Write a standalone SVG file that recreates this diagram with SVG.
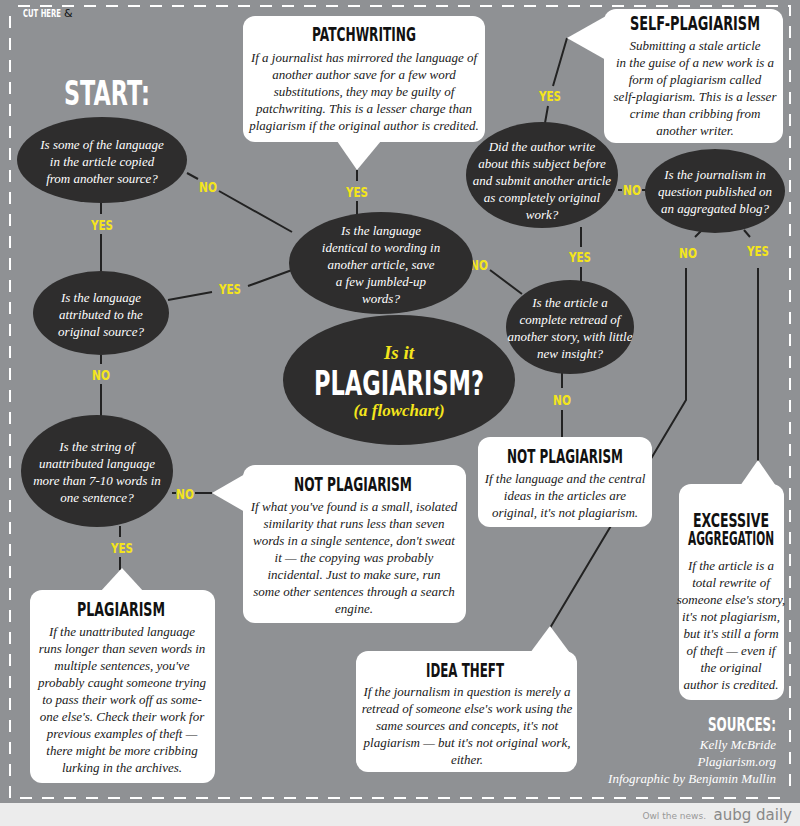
<svg xmlns="http://www.w3.org/2000/svg" width="800" height="826" viewBox="0 0 800 826">
<style>
.q{fill:#2e2d2d}
.qt{font-family:"Liberation Serif",serif;font-style:italic;font-size:13px;fill:#fff;text-anchor:middle}
.bx{fill:#fff}
.bt{font-family:"Liberation Serif",serif;font-style:italic;font-size:13px;fill:#1a1a1a;text-anchor:middle}
.h{font-family:"DejaVu Sans",sans-serif;font-weight:bold;font-size:19px;fill:#111;text-anchor:middle}
.l{font-family:"DejaVu Sans",sans-serif;font-weight:bold;font-size:14px;fill:#f4e51c;text-anchor:middle}
.c{stroke:#222;stroke-width:2;fill:none}
</style>
<rect width="800" height="826" fill="#8f9194"/>
<rect y="803" width="800" height="23" fill="#ececec"/>
<path d="M18 6H790V790M780 798H10V14" fill="none" stroke="#fff" stroke-width="2" stroke-dasharray="12,10"/>
<text x="23" y="17" font-family="DejaVu Sans,sans-serif" font-size="10" font-weight="bold" fill="#fff" textLength="38" lengthAdjust="spacingAndGlyphs">CUT HERE</text>
<text x="64" y="17" font-family="DejaVu Sans,sans-serif" font-size="11" fill="#111">&amp;</text>
<text x="107" y="105" font-family="DejaVu Sans,sans-serif" font-weight="bold" font-size="34" fill="#fff" text-anchor="middle" textLength="86" lengthAdjust="spacingAndGlyphs">START:</text>
<g id="connectors">
<path class="c" d="M187 173L198 179M219 191L292 232"/>
<path class="c" d="M101 202V214M101 234V272"/>
<path class="c" d="M168 300L212 292M248 286L292 270"/>
<path class="c" d="M101 355V364M101 384V416"/>
<path class="c" d="M172 493H176M195 493H212"/>
<path class="c" d="M120 526V537M120 557V570"/>
<path class="c" d="M357 170V181M357 201V214"/>
<path class="c" d="M462 250L468 254M490 270L522 294"/>
<path class="c" d="M545 123L548 106M553 86L567 38"/>
<path class="c" d="M618 190H622M642 190H648"/>
<path class="c" d="M581 227V247M581 267V283"/>
<path class="c" d="M562 372V388M562 410V437"/>
<path class="c" d="M702 230L695 237M686 268V400L550 628"/>
<path class="c" d="M744 230L750 237M758 268V462"/>
</g>
<g id="labels">
<text class="l" x="208" y="192" textLength="18" lengthAdjust="spacingAndGlyphs">NO</text>
<text class="l" x="102" y="230" textLength="22" lengthAdjust="spacingAndGlyphs">YES</text>
<text class="l" x="230" y="294" textLength="22" lengthAdjust="spacingAndGlyphs">YES</text>
<text class="l" x="101" y="380" textLength="18" lengthAdjust="spacingAndGlyphs">NO</text>
<text class="l" x="185" y="499" textLength="18" lengthAdjust="spacingAndGlyphs">NO</text>
<text class="l" x="122" y="553" textLength="22" lengthAdjust="spacingAndGlyphs">YES</text>
<text class="l" x="357" y="197" textLength="22" lengthAdjust="spacingAndGlyphs">YES</text>
<text class="l" x="479" y="270" textLength="18" lengthAdjust="spacingAndGlyphs">NO</text>
<text class="l" x="550" y="101" textLength="22" lengthAdjust="spacingAndGlyphs">YES</text>
<text class="l" x="632" y="195" textLength="18" lengthAdjust="spacingAndGlyphs">NO</text>
<text class="l" x="580" y="262" textLength="22" lengthAdjust="spacingAndGlyphs">YES</text>
<text class="l" x="562" y="405" textLength="18" lengthAdjust="spacingAndGlyphs">NO</text>
<text class="l" x="688" y="258" textLength="18" lengthAdjust="spacingAndGlyphs">NO</text>
<text class="l" x="758" y="256" textLength="22" lengthAdjust="spacingAndGlyphs">YES</text>
</g>
<g id="q1"><ellipse class="q" cx="102" cy="160" rx="85" ry="43"/>
<text class="qt" x="102" y="149">Is some of the language</text><text class="qt" x="102" y="166">in the article copied</text><text class="qt" x="102" y="183">from another source?</text></g>
<g id="q2"><ellipse class="q" cx="101" cy="313" rx="68" ry="42"/>
<text class="qt" x="101" y="302">Is the language</text><text class="qt" x="101" y="319">attributed to the</text><text class="qt" x="101" y="336">original source?</text></g>
<g id="q3"><ellipse class="q" cx="97" cy="471" rx="76" ry="56"/>
<text class="qt" x="97" y="451">Is the string of</text><text class="qt" x="97" y="468">unattributed language</text><text class="qt" x="97" y="485">more than 7-10 words in</text><text class="qt" x="97" y="502">one sentence?</text></g>
<g id="q4"><ellipse class="q" cx="381" cy="263" rx="92" ry="51"/>
<text class="qt" x="381" y="235">Is the language</text><text class="qt" x="381" y="252">identical to wording in</text><text class="qt" x="381" y="269">another article, save</text><text class="qt" x="381" y="286">a few jumbled-up</text><text class="qt" x="381" y="303">words?</text></g>
<g id="q5"><ellipse class="q" cx="542" cy="175" rx="76" ry="53"/>
<text class="qt" x="542" y="151">Did the author write</text><text class="qt" x="542" y="168">about this subject before</text><text class="qt" x="542" y="185">and submit another article</text><text class="qt" x="542" y="202">as completely original</text><text class="qt" x="542" y="219">work?</text></g>
<g id="q6"><ellipse class="q" cx="715" cy="191" rx="70" ry="42"/>
<text class="qt" x="715" y="179">Is the journalism in</text><text class="qt" x="715" y="196">question published on</text><text class="qt" x="715" y="213">an aggregated blog?</text></g>
<g id="q7"><ellipse class="q" cx="570" cy="327" rx="64" ry="47"/>
<text class="qt" x="570" y="307">Is the article a</text><text class="qt" x="570" y="324">complete retread of</text><text class="qt" x="570" y="341">another story, with little</text><text class="qt" x="570" y="358">new insight?</text></g>
<g id="title"><ellipse class="q" cx="399" cy="380" rx="116" ry="65"/>
<text x="399" y="359" font-family="Liberation Serif,serif" font-style="italic" font-weight="bold" font-size="19" fill="#f4e51c" text-anchor="middle">Is it</text>
<text x="399" y="395" font-family="DejaVu Sans,sans-serif" font-weight="bold" font-size="34" fill="#fff" text-anchor="middle" textLength="170" lengthAdjust="spacingAndGlyphs">PLAGIARISM?</text>
<text x="399" y="416" font-family="Liberation Serif,serif" font-style="italic" font-weight="bold" font-size="17" fill="#f4e51c" text-anchor="middle">(a flowchart)</text></g>
<g id="patchwriting"><rect class="bx" x="243" y="16" width="242" height="126" rx="12"/><path class="bx" d="M337 141L357 170L381 141Z"/>
<text class="h" x="364" y="41" textLength="104" lengthAdjust="spacingAndGlyphs">PATCHWRITING</text>
<text class="bt" x="364" y="62">If a journalist has mirrored the language of</text><text class="bt" x="364" y="79">another author save for a few word</text><text class="bt" x="364" y="96">substitutions, they may be guilty of</text><text class="bt" x="364" y="113">patchwriting. This is a lesser charge than</text><text class="bt" x="364" y="130">plagiarism if the original author is credited.</text></g>
<g id="self"><rect class="bx" x="604" y="9" width="179" height="134" rx="12"/><path class="bx" d="M567 38L606 16L606 60Z"/>
<text class="h" x="695" y="30" textLength="130" lengthAdjust="spacingAndGlyphs">SELF-PLAGIARISM</text>
<text class="bt" x="695" y="50">Submitting a stale article</text><text class="bt" x="695" y="67">in the guise of a new work is a</text><text class="bt" x="695" y="84">form of plagiarism called</text><text class="bt" x="695" y="101">self-plagiarism. This is a lesser</text><text class="bt" x="695" y="118">crime than cribbing from</text><text class="bt" x="695" y="135">another writer.</text></g>
<g id="notplag1"><rect class="bx" x="478" y="437" width="174" height="90" rx="12"/>
<text class="h" x="565" y="463" textLength="116" lengthAdjust="spacingAndGlyphs">NOT PLAGIARISM</text>
<text class="bt" x="565" y="483">If the language and the central</text><text class="bt" x="565" y="500">ideas in the articles are</text><text class="bt" x="565" y="517">original, it's not plagiarism.</text></g>
<g id="notplag2"><rect class="bx" x="243" y="465" width="223" height="158" rx="12"/><path class="bx" d="M212 493L245 474L245 512Z"/>
<text class="h" x="353" y="491" textLength="118" lengthAdjust="spacingAndGlyphs">NOT PLAGIARISM</text>
<text class="bt" x="354" y="511">If what you've found is a small, isolated</text><text class="bt" x="354" y="528">similarity that runs less than seven</text><text class="bt" x="354" y="545">words in a single sentence, don't sweat</text><text class="bt" x="354" y="562">it — the copying was probably</text><text class="bt" x="354" y="579">incidental. Just to make sure, run</text><text class="bt" x="354" y="596">some other sentences through a search</text><text class="bt" x="354" y="613">engine.</text></g>
<g id="plagiarism"><rect class="bx" x="30" y="590" width="185" height="193" rx="12"/><path class="bx" d="M100 592L122 568L144 592Z"/>
<text class="h" x="121" y="616" textLength="88" lengthAdjust="spacingAndGlyphs">PLAGIARISM</text>
<text class="bt" x="122" y="636">If the unattributed language</text><text class="bt" x="122" y="653">runs longer than seven words in</text><text class="bt" x="122" y="670">multiple sentences, you've</text><text class="bt" x="122" y="687">probably caught someone trying</text><text class="bt" x="122" y="704">to pass their work off as some-</text><text class="bt" x="122" y="721">one else's. Check their work for</text><text class="bt" x="122" y="738">previous examples of theft —</text><text class="bt" x="122" y="755">there might be more cribbing</text><text class="bt" x="122" y="772">lurking in the archives.</text></g>
<g id="idea"><rect class="bx" x="356" y="651" width="221" height="121" rx="12"/><path class="bx" d="M530 653L550 626L570 653Z"/>
<text class="h" x="465" y="677" textLength="78" lengthAdjust="spacingAndGlyphs">IDEA THEFT</text>
<text class="bt" x="467" y="696">If the journalism in question is merely a</text><text class="bt" x="467" y="713">retread of someone else's work using the</text><text class="bt" x="467" y="730">same sources and concepts, it's not</text><text class="bt" x="467" y="747">plagiarism — but it's not original work,</text><text class="bt" x="467" y="764">either.</text></g>
<g id="excessive"><rect class="bx" x="679" y="484" width="105" height="216" rx="12"/><path class="bx" d="M740 486L758 460L776 486Z"/>
<text class="h" x="731" y="527" textLength="76" lengthAdjust="spacingAndGlyphs">EXCESSIVE</text><text class="h" x="731" y="545" textLength="86" lengthAdjust="spacingAndGlyphs">AGGREGATION</text>
<text class="bt" x="731" y="570">If the article is a</text><text class="bt" x="731" y="587">total rewrite of</text><text class="bt" x="731" y="604">someone else's story,</text><text class="bt" x="731" y="621">it's not plagiarism,</text><text class="bt" x="731" y="638">but it's still a form</text><text class="bt" x="731" y="655">of theft — even if</text><text class="bt" x="731" y="672">the original</text><text class="bt" x="731" y="689">author is credited.</text></g>
<g id="sources">
<text x="776" y="731" font-family="DejaVu Sans,sans-serif" font-weight="bold" font-size="19" fill="#fff" text-anchor="end" textLength="68" lengthAdjust="spacingAndGlyphs">SOURCES:</text>
<text x="776" y="749" font-family="Liberation Serif,serif" font-style="italic" font-size="13" fill="#fff" text-anchor="end">Kelly McBride</text>
<text x="776" y="766" font-family="Liberation Serif,serif" font-style="italic" font-size="13" fill="#fff" text-anchor="end">Plagiarism.org</text>
<text x="776" y="783" font-family="Liberation Serif,serif" font-style="italic" font-size="13" fill="#fff" text-anchor="end">Infographic by Benjamin Mullin</text>
<text x="706" y="819" font-family="DejaVu Sans,sans-serif" font-size="9" fill="#999" text-anchor="end">Owl the news.</text>
<text x="792" y="820" font-family="DejaVu Sans,sans-serif" font-size="15" fill="#888" text-anchor="end">aubg daily</text>
</g>
</svg>
